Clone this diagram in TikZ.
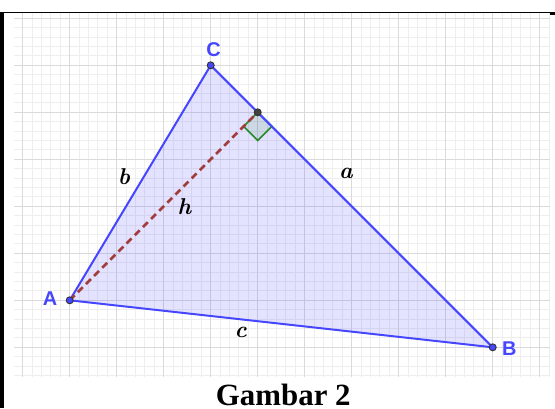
\documentclass[tikz,border=0pt]{standalone}
\usepackage{fontspec}
\newfontfamily\labelfont{Liberation Sans}
\newfontfamily\capfont{Liberation Serif}
\definecolor{ggblue}{RGB}{70,70,255}
\definecolor{ggred}{RGB}{160,60,60}
\definecolor{gggreen}{RGB}{40,135,40}
\definecolor{minorc}{RGB}{238,238,238}
\definecolor{majorc}{RGB}{218,218,218}
\tikzset{
  minorgrid/.style={draw=minorc,line width=0.9bp},
  majorgrid/.style={draw=majorc,line width=1.3bp},
  edge/.style={draw=ggblue,line width=2bp,line cap=round},
  height/.style={draw=ggred,line width=2.6bp,dash pattern=on 7bp off 4.5bp},
  pt/.style={circle,draw=black!80,line width=0.9bp,fill=ggblue,inner sep=0pt,minimum size=7bp},
  ptdark/.style={pt,fill=black!75},
  vlabel/.style={font=\labelfont\bfseries\fontsize{20}{24}\selectfont,text=ggblue,inner sep=0pt},
  slabel/.style={font=\bfseries\itshape\fontsize{23}{27}\selectfont,inner sep=0pt},
}
\begin{document}
\begin{tikzpicture}[x=1bp,y=-1bp]
\useasboundingbox (0,0) rectangle (555,408);
% grid
\begin{scope}
\clip (14,13) rectangle (550,377);
\foreach \i in {-1,...,56} \draw[minorgrid] ({22.7+9.4*\i},13) -- ({22.7+9.4*\i},377);
\foreach \j in {-1,...,38} \draw[minorgrid] (14,{18.3+9.4*\j}) -- (550,{18.3+9.4*\j});
\foreach \i in {0,...,11} \draw[majorgrid] ({22.7+47*\i},13) -- ({22.7+47*\i},377);
\foreach \j in {0,...,7} \draw[majorgrid] (14,{18.3+47*\j}) -- (550,{18.3+47*\j});
\end{scope}
% frame
\draw[line width=1.1bp] (0,12.5) -- (555,12.5);
\fill (0,12) rectangle (4.3,408);
\fill (550,12) rectangle (555,14.6);
% points
\coordinate (A) at (69.7,300.3);
\coordinate (B) at (492.7,347.3);
\coordinate (C) at (210.7,65.3);
\coordinate (H) at (257.7,112.3);
\coordinate (RL) at (243.6,126.4);
\coordinate (RB) at (257.7,140.5);
\coordinate (RR) at (271.8,126.4);
% triangle fill
\fill[ggblue,fill opacity=0.15] (A) -- (B) -- (C) -- cycle;
% right angle mark
\filldraw[draw=gggreen,fill=gggreen,fill opacity=0.12,line width=1.6bp,line join=miter] (H) -- (RL) -- (RB) -- (RR) -- cycle;
% edges
\draw[edge] (A) -- (B);
\draw[edge] (B) -- (C);
\draw[edge] (C) -- (A);
% altitude
\draw[height] (A) -- (H);
% point markers
\node[pt] (pA) at (A) {};
\node[pt] (pB) at (B) {};
\node[pt] (pC) at (C) {};
\node[ptdark] (pH) at (H) {};
% vertex labels
\node[vlabel] (lA) at (50,299) {A};
\node[vlabel] (lB) at (509.3,348.3) {B};
\node[vlabel] (lC) at (213.5,50) {C};
% side labels
\node[slabel] (la) at (346,173) {a};
\node[slabel] (lb) at (124,177) {b};
\node[slabel] (lc) at (240.7,332.7) {c};
\node[slabel] (lh) at (184.3,206.7) {h};
% caption
\node[font=\capfont\bfseries\fontsize{31}{36}\selectfont,anchor=base,inner sep=0pt] (cap) at (283.3,405.6) {Gambar 2};
\end{tikzpicture}
\end{document}
